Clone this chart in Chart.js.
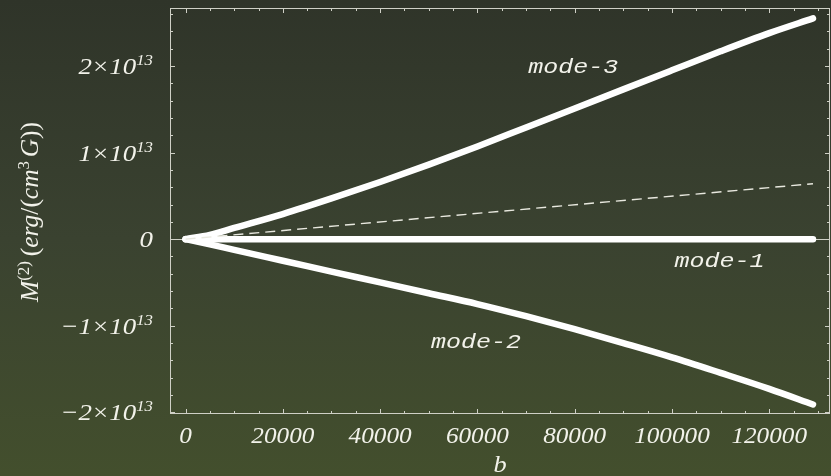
<!DOCTYPE html>
<html>
<head>
<meta charset="utf-8">
<script src="https://cdn.jsdelivr.net/npm/chart.js@4.4.0/dist/chart.umd.min.js"></script>
<style>
html, body { margin: 0; padding: 0; }
body { width: 831px; height: 476px; overflow: hidden;
  background: linear-gradient(to bottom, #2f3429 0%, #3a4230 50%, #434f2d 100%); }
</style>
</head>
<body>
<canvas id="chart" width="831" height="476"></canvas>
<script>
// b values and M(2) in units of 1e13 erg/(cm^3 G)
const bValues = [0, 5000, 10000, 20000, 30000, 40000, 50000, 60000, 70000, 80000, 90000, 100000, 110000, 120000, 129000];
const mode1 = [0, 0, 0, 0, 0, 0, 0, 0, 0, 0, 0, 0, 0, 0, 0];
const mode2 = [0, -0.06, -0.125, -0.25, -0.375, -0.5, -0.625, -0.75, -0.89, -1.04, -1.2, -1.365, -1.545, -1.73, -1.91];
const mode3 = [0, 0.05, 0.13, 0.29, 0.47, 0.66, 0.86, 1.07, 1.29, 1.51, 1.73, 1.95, 2.17, 2.38, 2.55];
const refB = [0, 129000];
const refLine = [0, 0.64];

const xTicks = [0, 20000, 40000, 60000, 80000, 100000, 120000];
const yTicks = [-2, -1, 0, 1, 2];
const yTickLabels = ['\u22122', '\u22121', '0', '1', '2'];

const modeNames = ['mode-3', 'mode-1', 'mode-2'];
const modeLabelB = [79700, 109800, 59700];
const modeLabelV = [1.915, -0.323, -1.257];

var frameColor = '#cfd0c6';
var textColor = '#f2f2ea';

var toPoints = function(xs, ys) {
  return xs.map(function(x, i) { return {x: x, y: ys[i]}; });
};

var lineSet = function(ys) {
  return {
    data: toPoints(bValues, ys),
    borderColor: '#ffffff',
    borderWidth: 6.5,
    borderCapStyle: 'round',
    borderJoinStyle: 'round',
    pointRadius: 0,
    showLine: true,
    cubicInterpolationMode: 'monotone',
    fill: false
  };
};

// draw text horizontally stretched
var putText = function(ctx, str, x, y, align, sx) {
  ctx.save();
  ctx.translate(x, y);
  ctx.scale(sx, 1);
  ctx.textAlign = align;
  ctx.fillText(str, 0, 0);
  ctx.restore();
};

// runs: [text, font, raise, gapAfter]
var runsWidth = function(ctx, runs) {
  var w = 0;
  runs.forEach(function(r) { ctx.font = r[1]; w += ctx.measureText(r[0]).width + (r[3] || 0); });
  return w;
};

var drawRuns = function(ctx, runs) {
  var x = 0;
  runs.forEach(function(r) {
    ctx.font = r[1];
    ctx.fillText(r[0], x, -(r[2] || 0));
    x += ctx.measureText(r[0]).width + (r[3] || 0);
  });
};

var serifI = function(s) { return 'italic ' + s + 'px "Liberation Serif", "DejaVu Serif", serif'; };
var serif = function(s) { return s + 'px "Liberation Serif", "DejaVu Serif", serif'; };

var framePlugin = {
  id: 'frame',
  beforeDatasetsDraw: function(chart) {
    var ctx = chart.ctx;
    var a = chart.chartArea;
    var xs = chart.scales.x, ys = chart.scales.y;
    ctx.save();
    ctx.strokeStyle = frameColor;
    ctx.lineWidth = 1;
    // zero line
    var y0 = Math.round(ys.getPixelForValue(0)) + 0.5;
    ctx.beginPath();
    ctx.moveTo(a.left, y0);
    ctx.lineTo(a.right, y0);
    ctx.stroke();
    // frame
    ctx.strokeRect(a.left + 0.5, a.top + 0.5, a.right - a.left - 1, a.bottom - a.top - 1);
    // ticks on all sides, pointing inward
    ctx.beginPath();
    for (var b = 0; b <= 130000; b += 5000) {
      var px = Math.round(xs.getPixelForValue(b)) + 0.5;
      var len = (b % 20000 === 0) ? 5 : 3;
      ctx.moveTo(px, a.bottom); ctx.lineTo(px, a.bottom - len);
      ctx.moveTo(px, a.top); ctx.lineTo(px, a.top + len);
    }
    for (var k = -10; k <= 13; k++) {
      var py = Math.round(ys.getPixelForValue(k * 0.2)) + 0.5;
      var ylen = (k % 5 === 0) ? 5 : 3;
      ctx.moveTo(a.left, py); ctx.lineTo(a.left + ylen, py);
      ctx.moveTo(a.right, py); ctx.lineTo(a.right - ylen, py);
    }
    ctx.stroke();
    ctx.restore();
  },
  afterDatasetsDraw: function(chart) {
    var ctx = chart.ctx;
    var a = chart.chartArea;
    var xs = chart.scales.x, ys = chart.scales.y;
    ctx.save();
    ctx.fillStyle = textColor;
    ctx.textBaseline = 'alphabetic';

    // x tick labels
    ctx.font = serifI(24);
    xTicks.forEach(function(v) {
      putText(ctx, String(v), xs.getPixelForValue(v), a.bottom + 29, 'center', 1.05);
    });

    // y tick labels
    yTicks.forEach(function(v, i) {
      var runs;
      if (v === 0) {
        runs = [['0', serifI(24), 0]];
      } else {
        var lab = yTickLabels[i];
        runs = [];
        if (lab.charAt(0) === '\u2212') {
          runs.push(['\u2212', serif(24), 0, 1]);
          lab = lab.slice(1);
        }
        runs.push([lab, serifI(24), 0, 1]);
        runs.push(['\u00d7', serif(24), 0, 1]);
        runs.push(['10', serifI(24), 0]);
        runs.push(['13', serifI(15), 9]);
      }
      var sx = 1.12;
      var w = runsWidth(ctx, runs) * sx;
      ctx.save();
      ctx.translate(153 - w, ys.getPixelForValue(v) + 8);
      ctx.scale(sx, 1);
      drawRuns(ctx, runs);
      ctx.restore();
    });

    // axis titles
    ctx.font = serifI(24);
    putText(ctx, 'b', (a.left + a.right) / 2, 472, 'center', 1.1);

    var title = [
      ['M', serifI(21), 0],
      ['(2)', serif(14), 8, 4],
      ['(', serif(21), 0],
      ['erg', serifI(21), 0],
      ['/(', serif(21), 0],
      ['cm', serifI(21), 0],
      ['3', serif(14), 8, 3],
      ['G', serifI(21), 0],
      ['))', serif(21), 0]
    ];
    var tw = runsWidth(ctx, title);
    var fit = 180 / tw;
    ctx.save();
    ctx.translate(38, 212);
    ctx.rotate(-Math.PI / 2);
    ctx.scale(fit, 1.15);
    ctx.translate(-tw / 2, 0);
    drawRuns(ctx, title);
    ctx.restore();

    // curve labels
    ctx.font = 'italic 21px "Liberation Mono", "DejaVu Sans Mono", monospace';
    modeNames.forEach(function(name, i) {
      putText(ctx, name, xs.getPixelForValue(modeLabelB[i]), ys.getPixelForValue(modeLabelV[i]), 'center', 1.19);
    });
    ctx.restore();
  }
};

var ctx = document.getElementById('chart').getContext('2d');
var myChart = new Chart(ctx, {
  type: 'scatter',
  data: {
    datasets: [
      {
        data: toPoints(refB, refLine),
        borderColor: '#e8e8df',
        borderWidth: 1.4,
        borderDash: [10, 6],
        pointRadius: 0,
        showLine: true,
        fill: false
      },
      lineSet(mode1),
      lineSet(mode2),
      lineSet(mode3)
    ]
  },
  options: {
    responsive: false,
    animation: false,
    devicePixelRatio: 1,
    layout: { padding: { left: 170, top: 8, right: 1, bottom: 62 } },
    plugins: { legend: { display: false }, tooltip: { enabled: false } },
    scales: {
      x: { type: 'linear', min: -3200, max: 132500, display: false },
      y: { type: 'linear', min: -2.02, max: 2.67, display: false }
    }
  },
  plugins: [framePlugin]
});
</script>
</body>
</html>
